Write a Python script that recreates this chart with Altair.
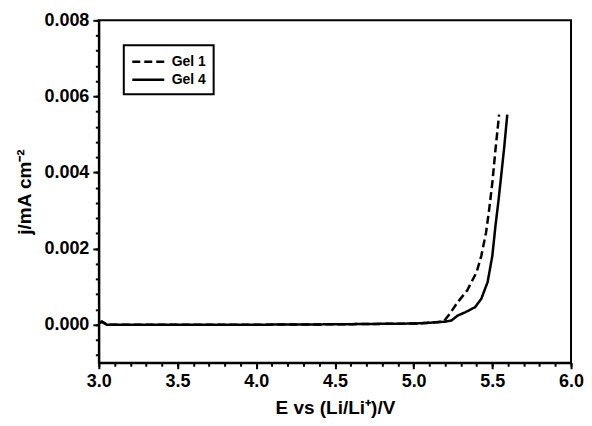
import altair as alt
import pandas as pd

series_names = ["Gel 1", "Gel 4"]

gel1_x = [3.00, 3.02, 3.05, 3.50, 4.00, 4.50, 5.00, 5.10, 5.19, 5.23, 5.28, 5.34,
          5.40, 5.43, 5.46, 5.48, 5.50, 5.52, 5.543]
gel1_y = [0.00005, 0.00008, 0.0, 0.0, 0.0, 0.00001, 0.00003, 0.00005, 0.00008,
          0.00029, 0.00059, 0.00090, 0.00138, 0.00181, 0.00242, 0.00303, 0.00373,
          0.00460, 0.00552]

gel4_x = [3.00, 3.02, 3.05, 3.50, 4.00, 4.50, 5.00, 5.10, 5.20, 5.24, 5.28, 5.33,
          5.39, 5.43, 5.47, 5.50, 5.52, 5.54, 5.574, 5.595]
gel4_y = [0.00005, 0.00008, 0.0, 0.0, 0.0, 0.00001, 0.00003, 0.00005, 0.00008,
          0.00011, 0.00024, 0.00033, 0.00046, 0.00068, 0.00112, 0.00181, 0.00260,
          0.00329, 0.00460, 0.00552]

x_major = [3.0, 3.5, 4.0, 4.5, 5.0, 5.5, 6.0]
x_minor = [round(3.0 + 0.1 * i, 2) for i in range(31)]
y_major = [0.0, 0.002, 0.004, 0.006, 0.008]
y_minor = [round(-0.0008 + 0.0004 * i, 5) for i in range(23)]

rows = []
for xv, yv in zip(gel1_x, gel1_y):
    rows.append({"E": xv, "j": yv, "series": series_names[0]})
for xv, yv in zip(gel4_x, gel4_y):
    rows.append({"E": xv, "j": yv, "series": series_names[1]})
df = pd.DataFrame(rows)

FONT = "Liberation Sans"

x_scale = alt.Scale(domain=[3.0, 6.0], nice=False, zero=False)
y_scale = alt.Scale(domain=[-0.001, 0.008], nice=False, zero=False)

base = alt.Chart(df)

main = base.mark_line(strokeWidth=2.5, color="black").encode(
    x=alt.X("E:Q", scale=x_scale,
            axis=alt.Axis(values=x_major, format=".1f", orient="bottom",
                          title="E vs (Li/Li⁺)/V", tickSize=6, tickWidth=2,
                          domainWidth=2, domainColor="black", tickColor="black",
                          labelFontSize=18, labelFontWeight="bold", labelFont=FONT,
                          labelColor="black", labelPadding=4,
                          titleFontSize=19, titleFontWeight="bold", titleFont=FONT,
                          titleColor="black", titlePadding=8, grid=False,
                          labelFlush=False)),
    y=alt.Y("j:Q", scale=y_scale,
            axis=alt.Axis(values=y_major, format=".3f", orient="left",
                          title="j/mA cm⁻²", tickSize=6, tickWidth=2,
                          domainWidth=2, domainColor="black", tickColor="black",
                          labelFontSize=18, labelFontWeight="bold", labelFont=FONT,
                          labelColor="black", labelPadding=4,
                          titleFontSize=19, titleFontWeight="bold", titleFont=FONT,
                          titleColor="black", titlePadding=9, grid=False,
                          labelFlush=False)),
    strokeDash=alt.StrokeDash("series:N",
                              scale=alt.Scale(domain=series_names,
                                              range=[[8, 4], [1, 0]]),
                              legend=alt.Legend(title=None, orient="none",
                                                legendX=25, legendY=25,
                                                symbolType="M-1,0H3",
                                                symbolSize=256,
                                                symbolStrokeWidth=2.5,
                                                symbolStrokeColor="black",
                                                labelFontSize=14,
                                                labelFontWeight="bold",
                                                labelFont=FONT,
                                                labelColor="black",
                                                labelOffset=22,
                                                strokeColor="black",
                                                padding=7,
                                                rowPadding=1)),
    detail="series:N",
)

minor = base.mark_line(strokeOpacity=0).encode(
    x=alt.X("E:Q", scale=x_scale,
            axis=alt.Axis(values=x_minor, orient="bottom", labels=False,
                          title=None, domain=False, tickSize=3.5, tickWidth=2,
                          tickColor="black", grid=False)),
    y=alt.Y("j:Q", scale=y_scale,
            axis=alt.Axis(values=y_minor, orient="left", labels=False,
                          title=None, domain=False, tickSize=3.5, tickWidth=2,
                          tickColor="black", grid=False)),
    detail="series:N",
)

chart = alt.layer(main, minor).resolve_axis(x="independent", y="independent").properties(
    width=473, height=343,
    padding={"left": 7, "top": 3, "right": 0, "bottom": 0},
    background="white",
).configure_view(stroke="black", strokeWidth=2).configure_legend(strokeWidth=2)

chart.save("out.html", embed_options={"renderer": "svg", "actions": False})
